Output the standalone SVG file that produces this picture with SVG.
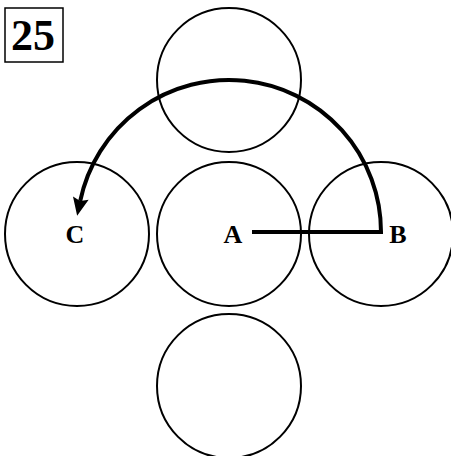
<svg xmlns="http://www.w3.org/2000/svg" width="451" height="456" viewBox="0 0 451 456">
<style>
.c{fill:none;stroke:#000;stroke-width:2}
.t{font-family:"Liberation Serif","Times New Roman",serif;font-weight:bold;fill:#000}
</style>
<defs>
<marker id="ah" markerUnits="userSpaceOnUse" markerWidth="20" markerHeight="18" refX="3" refY="8" orient="auto" overflow="visible">
<path d="M0,0 L18,8 L0,16 L3,8 z" fill="#000"/>
</marker>
</defs>
<rect width="451" height="456" fill="#fff"/>
<g id="label25">
<rect x="5" y="8" width="58" height="54" fill="#fff" stroke="#000" stroke-width="1.5"/>
<text class="t" x="33" y="50" font-size="44" text-anchor="middle">25</text>
</g>
<g id="top"><circle class="c" cx="229" cy="80" r="72"/></g>
<g id="C"><circle class="c" cx="77" cy="234" r="72"/><text class="t" x="75" y="243" font-size="26" text-anchor="middle">C</text></g>
<g id="A"><circle class="c" cx="229" cy="234" r="72"/><text class="t" x="233" y="243" font-size="26" text-anchor="middle">A</text></g>
<g id="B"><circle class="c" cx="381" cy="234" r="72"/><text class="t" x="398" y="243" font-size="26" text-anchor="middle">B</text></g>
<g id="bottom"><circle class="c" cx="229" cy="386" r="72"/></g>
<g id="connectors">
<path d="M252,232 H381 A152,152 0 0 0 80.2,201" fill="none" stroke="#000" stroke-width="4" marker-end="url(#ah)"/>
</g>
</svg>
